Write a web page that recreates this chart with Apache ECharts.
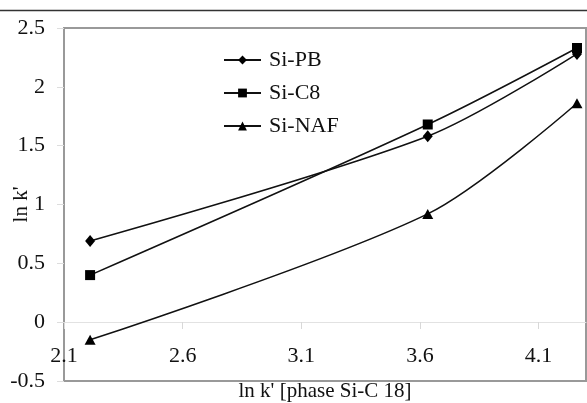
<!DOCTYPE html>
<html><head><meta charset="utf-8">
<script src="https://cdn.jsdelivr.net/npm/echarts@6/dist/echarts.min.js"></script>
<style>html,body{margin:0;padding:0;background:#fff}#c{width:587px;height:403px}</style>
</head><body><div id="c"></div>
<script>
const xValues = [2.21, 3.633, 4.262];
const siPB = [0.69, 1.58, 2.28];
const siC8 = [0.40, 1.68, 2.33];
const siNAF = [-0.15, 0.92, 1.86];
const seriesNames = ['Si-PB', 'Si-C8', 'Si-NAF'];
const symbols = ['diamond', 'rect', 'triangle'];
const symbolSizes = [[10, 12], 10, [11, 10]];
const xTitle = "ln k' [phase Si-C 18]";
const yTitle = "ln k'";

const font = 'Liberation Serif';
const fs = 22;
const chart = echarts.init(document.getElementById('c'));
const dataSets = [siPB, siC8, siNAF];
chart.setOption({
  animation: false,
  backgroundColor: '#fff',
  textStyle: { fontFamily: font },
  graphic: [{ type: 'line', shape: { x1: 0, y1: 10.5, x2: 587, y2: 10.5 }, style: { stroke: '#333', lineWidth: 1.5 } }],
  grid: { left: 64, right: 1, top: 28, bottom: 22, show: true, borderColor: '#999', borderWidth: 2, backgroundColor: '#fff', containLabel: false, outerBoundsMode: 'none' },
  legend: {
    orient: 'vertical', left: 218, top: 44, itemWidth: 37, itemHeight: 11, itemGap: 11,
    data: seriesNames,
    textStyle: { fontFamily: font, fontSize: fs, color: '#111', lineHeight: 22, padding: [0, 0, 0, 3] }
  },
  xAxis: {
    type: 'value', min: 2.1, max: 4.3, interval: 0.5,
    offset: -59,
    name: xTitle, nameLocation: 'middle', nameGap: 59, nameMoveOverlap: false,
    nameTextStyle: { fontFamily: font, fontSize: 21, color: '#111' },
    axisLine: { onZero: false, lineStyle: { color: '#e2e2e2', width: 1 } },
    axisTick: { show: true, length: 7, lineStyle: { color: '#d8d8d8' } },
    axisLabel: { margin: 23, fontFamily: font, fontSize: fs, color: '#111', showMaxLabel: false },
    splitLine: { show: false }
  },
  yAxis: {
    type: 'value', min: -0.5, max: 2.5, interval: 0.5,
    name: yTitle, nameLocation: 'middle', nameGap: 32, nameRotate: 90, nameMoveOverlap: false,
    nameTextStyle: { fontFamily: font, fontSize: 21, color: '#111' },
    axisLine: { show: true, lineStyle: { color: '#999', width: 2 } },
    axisTick: { show: true, length: 7, lineStyle: { color: '#ddd' } },
    axisLabel: { margin: 19, fontFamily: font, fontSize: fs, color: '#111' },
    splitLine: { show: false }
  },
  series: dataSets.map((d, i) => ({
    name: seriesNames[i], type: 'line', smooth: 0.3,
    data: xValues.map((x, j) => [x, d[j]]),
    symbol: symbols[i], symbolSize: symbolSizes[i], showAllSymbol: true,
    lineStyle: { color: '#111', width: 1.5 },
    itemStyle: { color: '#000' }
  }))
});
</script></body></html>
